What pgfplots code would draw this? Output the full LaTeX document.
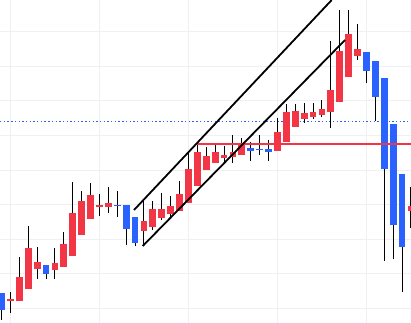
\documentclass[border=0pt]{standalone}
\usepackage{pgfplots}
\usepackage{pgfplotstable}
\pgfplotsset{compat=1.18}
\definecolor{cred}{HTML}{F23645}
\definecolor{cblue}{HTML}{2962FF}
\definecolor{gridc}{HTML}{F0F0F2}
% k open high low close (up candles)
\pgfplotstableread{
k o h l c
2 21.7 31 10 24.3
3 22 66 22 46
4 34 97 34 75
5 54 76 44 61
7 53 75 44 60
8 56 91 56 79
9 67 141 67 110
10 88 132 88 122
11 104 140 104 128
12 116 129 107 118
13 116 136 110 120
17 92 122 77 102
18 96 122 93 114
19 105 130 103 114
20 109 127 105 117
21 112 142 112 129
22 120 170 120 154
23 137 178 137 171
24 153 176 153 167
25 160 179 160 171
26 165 177 161 168
27 166 188 160 171
28 168 185 168 180
32 172 205 172 191
33 181 219 181 211
34 196 219 196 212
35 204 220 200 210
36 206 220 204 211
37 208 223 206 214
38 211 282 195 233
39 221 313 221 272
40 246 313 246 289
41 267 299 263 274
47 112 136 95 117
}\upc
% down candles
\pgfplotstableread{
k o h l c
1 30 30 3 13
6 58 58 44 49
14 118 132 106 117
15 118 118 78 94
16 106 106 77 80
29 175 181 162 172
30 174 188 168 172.5
31 174 183 162 171
42 271 271 240 252
43 262 262 202 226
44 245 245 62 154
45 199 199 64 98
46 149 149 31 76
}\downc
\begin{document}
\begin{tikzpicture}
\begin{axis}[
  scale only axis, width=411bp, height=323bp,
  xmin=0.8315, xmax=47.01, ymin=0, ymax=323,
  axis line style={draw=none}, tick style={draw=none},
  xtick={2,12,22,32,42},
  ytick={14.5,49.1,83.7,118.3,152.9,187.5,222.1,256.7,291.3},
  xticklabels={}, yticklabels={},
  grid=major, grid style={color=gridc, line width=0.9bp},
]
\path (rel axis cs:0,0) coordinate (sw) (rel axis cs:1,1) coordinate (ne);
% dotted level
\addplot [cblue, line width=1.1bp, dash pattern=on 1.4bp off 2.3bp] coordinates {(0.8315,201.5) (47.01,201.5)};
% wicks
\addplot [draw=none, mark=none, error bars/.cd, y dir=plus, y explicit, error mark=none,
  error bar style={line width=1bp, black}]
  table [x=k, y=l, y error plus expr=\thisrow{h}-\thisrow{l}] {\upc};
\addplot [draw=none, mark=none, error bars/.cd, y dir=plus, y explicit, error mark=none,
  error bar style={line width=1bp, black}]
  table [x=k, y=l, y error plus expr=\thisrow{h}-\thisrow{l}] {\downc};
% bodies
\addplot [draw=none, mark=none, error bars/.cd, y dir=plus, y explicit, error mark=none,
  error bar style={line width=6.8bp, cred}]
  table [x=k, y=o, y error plus expr=\thisrow{c}-\thisrow{o}] {\upc};
\addplot [draw=none, mark=none, error bars/.cd, y dir=plus, y explicit, error mark=none,
  error bar style={line width=6.8bp, cblue}]
  table [x=k, y=c, y error plus expr=\thisrow{o}-\thisrow{c}] {\downc};
% red horizontal level
\addplot [cred, line width=2bp] coordinates {(22.93,179.2) (47.01,179.2)};
% channel
\addplot [black, line width=1.8bp] coordinates {(15.89,113) (38.10,323)};
\addplot [black, line width=1.8bp] coordinates {(16.87,77) (39.6,283)};
\end{axis}
\pgfresetboundingbox
\path[use as bounding box] (sw) rectangle (ne);
\end{tikzpicture}
\end{document}
